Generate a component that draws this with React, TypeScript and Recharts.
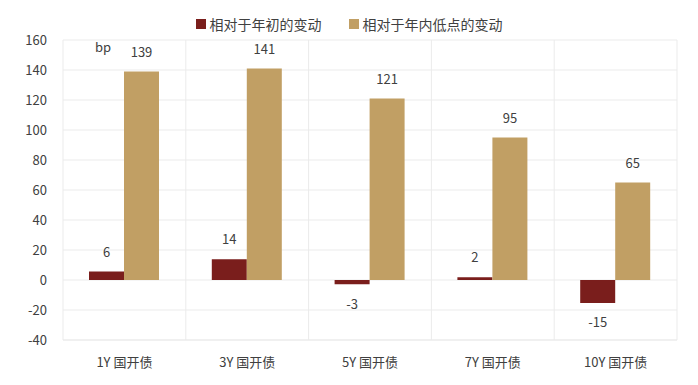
import React from 'react';
import { BarChart, Bar, XAxis, YAxis, CartesianGrid, LabelList, Customized } from 'recharts';

const categories = ['1Y 国开债', '3Y 国开债', '5Y 国开债', '7Y 国开债', '10Y 国开债'];
const sinceYearStart = [5.6, 13.8, -2.9, 1.8, -15.3];
const sinceYearLow = [139, 141, 121, 95, 65];
const yTicks = [-40, -20, 0, 20, 40, 60, 80, 100, 120, 140, 160];

const data = categories.map((name, i) => ({
    name,
    start: sinceYearStart[i],
    low: sinceYearLow[i],
}));

const FONT = '"Noto Sans CJK SC", "Noto Sans", sans-serif';
const TEXT = '#404040';
const RED = '#7a1e1c';
const TAN = '#c19f64';

const series = [
    { key: 'start', name: '相对于年初的变动', color: RED },
    { key: 'low', name: '相对于年内低点的变动', color: TAN },
];

const TopLegend: React.FC = () => (
    <div
        style={{
            position: 'absolute',
            top: 14,
            left: 0,
            width: 698,
            display: 'flex',
            justifyContent: 'center',
            gap: 27,
            fontSize: 14,
            color: TEXT,
            fontFamily: FONT,
            lineHeight: '20px',
        }}
    >
        {series.map(s => (
            <div key={s.key} style={{ display: 'flex', alignItems: 'center' }}>
                <span style={{ width: 10, height: 10, background: s.color, marginRight: 4, display: 'inline-block' }} />
                {s.name}
            </div>
        ))}
    </div>
);

const App: React.FC = () => {
    return (
        <div style={{ position: 'absolute', left: 0, top: 0, width: 698, height: 385, background: '#fff', fontFamily: FONT }}>
            <BarChart
                width={698}
                height={385}
                data={data}
                margin={{ top: 40, right: 21, left: 0, bottom: 0 }}
                barGap={0}
            >
                <CartesianGrid
                    stroke="#ebebeb"
                    verticalCoordinatesGenerator={({ offset }: any) =>
                        Array.from({ length: categories.length + 1 }, (_, i) => offset.left + (i * offset.width) / categories.length)
                    }
                />
                <XAxis
                    dataKey="name"
                    axisLine={{ stroke: '#ebebeb' }}
                    tickLine={false}
                    tickMargin={12}
                    height={45}
                    tick={{ fill: TEXT, fontSize: 13, fontFamily: FONT }}
                />
                <YAxis
                    domain={[-40, 160]}
                    ticks={yTicks}
                    width={63}
                    axisLine={false}
                    tickLine={false}
                    tickMargin={10}
                    tick={{ fill: TEXT, fontSize: 13, fontFamily: FONT }}
                />
                {series.map(s => (
                    <Bar key={s.key} dataKey={s.key} name={s.name} fill={s.color} barSize={35} isAnimationActive={false}>
                        <LabelList
                            dataKey={s.key}
                            position="top"
                            offset={15}
                            formatter={(v: any) => Math.round(v)}
                            style={{ fill: TEXT, fontSize: 13, fontFamily: FONT }}
                        />
                    </Bar>
                ))}
                <Customized
                    component={() => (
                        <text x={95} y={52} fill={TEXT} fontSize={13} fontFamily={FONT}>
                            bp
                        </text>
                    )}
                />
            </BarChart>
            <TopLegend />
        </div>
    );
};

export default App;
